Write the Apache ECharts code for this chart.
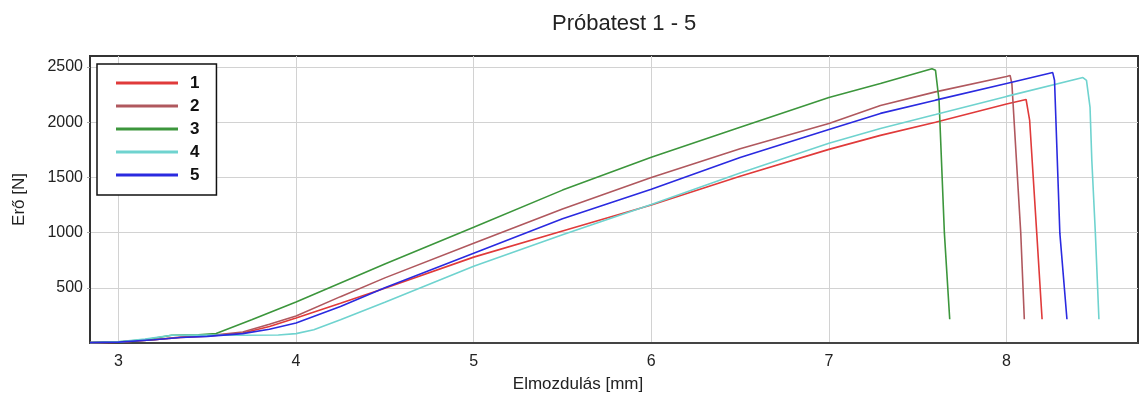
<!DOCTYPE html>
<html>
<head>
<meta charset="utf-8">
<script src="https://cdn.jsdelivr.net/npm/echarts@6/dist/echarts.min.js"></script>
<style>
  html, body { margin: 0; padding: 0; background: #fff; }
  #chart { width: 1140px; height: 410px; }
</style>
</head>
<body>
<div id="chart"></div>
<script>
// Próbatest 1 - 5, elmozdulás [mm] / erő [N]
const names = ['1', '2', '3', '4', '5']
const colors = ['#e03a3a', '#b0585e', '#3c963c', '#6fd3cf', '#2a2ae0']

const disp1 = [2.84, 3.0, 3.2, 3.35, 3.5, 3.7, 3.85, 4.0, 4.25, 4.5, 5.0, 5.5, 6.0, 6.5, 7.0, 7.29, 7.6, 8.0, 8.11, 8.13, 8.17, 8.20]
const force1 = [3, 8, 30, 50, 62, 90, 150, 226, 360, 497, 778, 1015, 1250, 1510, 1754, 1881, 2000, 2165, 2206, 2016, 995, 215]

const disp2 = [2.84, 3.0, 3.2, 3.35, 3.5, 3.7, 3.85, 4.0, 4.25, 4.5, 5.0, 5.5, 6.0, 6.5, 7.0, 7.29, 7.6, 8.0, 8.02, 8.03, 8.08, 8.10]
const force2 = [3, 8, 30, 55, 65, 100, 170, 244, 420, 590, 904, 1215, 1500, 1760, 1989, 2152, 2275, 2414, 2423, 2350, 995, 215]

const disp3 = [2.84, 3.0, 3.15, 3.3, 3.45, 3.55, 3.75, 4.0, 4.5, 5.0, 5.5, 6.0, 6.5, 7.0, 7.29, 7.58, 7.60, 7.62, 7.65, 7.68]
const force3 = [5, 10, 30, 70, 75, 85, 210, 371, 715, 1049, 1385, 1682, 1955, 2224, 2350, 2484, 2470, 2197, 995, 215]

const disp4 = [2.84, 3.0, 3.15, 3.3, 3.5, 3.7, 3.9, 4.0, 4.1, 4.25, 4.5, 5.0, 5.5, 6.0, 6.5, 7.0, 7.29, 7.6, 8.0, 8.43, 8.45, 8.47, 8.48, 8.50, 8.52]
const force4 = [3, 10, 35, 70, 72, 70, 72, 85, 120, 210, 370, 696, 980, 1255, 1540, 1809, 1944, 2070, 2234, 2405, 2380, 2134, 1655, 995, 215]

const disp5 = [2.84, 3.0, 3.2, 3.35, 3.5, 3.7, 3.85, 4.0, 4.25, 4.5, 5.0, 5.5, 6.0, 6.5, 7.0, 7.29, 7.6, 8.0, 8.26, 8.27, 8.30, 8.34]
const force5 = [3, 8, 30, 50, 60, 85, 125, 181, 330, 500, 814, 1125, 1393, 1680, 1935, 2080, 2200, 2351, 2450, 2380, 995, 215]

const xTicks = [3, 4, 5, 6, 7, 8]
const yTicks = [500, 1000, 1500, 2000, 2500]

const allDisp = [disp1, disp2, disp3, disp4, disp5]
const allForce = [force1, force2, force3, force4, force5]

const font = 'Liberation Sans, Arial, sans-serif'

const chart = echarts.init(document.getElementById('chart'))
chart.setOption({
    animation: false,
    title: {
        text: 'Próbatest 1 - 5',
        left: 547,
        top: 8,
        textStyle: { fontFamily: font, fontSize: 22, fontWeight: 'normal', color: '#222' },
    },
    legend: {
        orient: 'vertical',
        left: 97,
        top: 64,
        data: names,
        icon: 'rect',
        itemWidth: 62,
        itemHeight: 3,
        itemGap: 5,
        padding: [10, 17, 11, 19],
        borderColor: '#111',
        borderWidth: 1.5,
        backgroundColor: '#fff',
        textStyle: { fontFamily: font, fontSize: 17, fontWeight: 'bold', color: '#111', lineHeight: 18, padding: [0, 0, 0, 7] },
    },
    grid: {
        left: 90,
        right: 2,
        top: 56,
        bottom: 67,
        show: true,
        borderColor: '#333',
        borderWidth: 2,
    },
    xAxis: {
        type: 'value',
        min: 2.84,
        max: 8.74,
        name: 'Elmozdulás [mm]',
        nameLocation: 'middle',
        nameGap: 33,
        nameTextStyle: { fontFamily: font, fontSize: 17, color: '#222', padding: [0, 72, 0, 0] },
        axisLine: { show: true, lineStyle: { color: '#444', width: 2 } },
        axisTick: { show: false, customValues: xTicks },
        axisLabel: { customValues: xTicks, margin: 11, fontFamily: font, fontSize: 16, color: '#222' },
        splitLine: { show: true, lineStyle: { color: '#d2d2d2', width: 1 } },
    },
    yAxis: {
        type: 'value',
        min: 0,
        max: 2600,
        name: 'Erő [N]',
        nameLocation: 'middle',
        nameGap: 62,
        nameTextStyle: { fontFamily: font, fontSize: 17, color: '#222' },
        axisLine: { show: true, lineStyle: { color: '#333', width: 2 } },
        axisTick: { show: true, length: 3, customValues: yTicks, lineStyle: { color: '#aaa' } },
        axisLabel: {
            customValues: yTicks,
            margin: 7,
            fontFamily: font,
            fontSize: 16,
            color: '#222',
            formatter: (v) => String(v),
        },
        splitLine: { show: true, lineStyle: { color: '#d2d2d2', width: 1 } },
    },
    series: names.map((n, i) => ({
        name: n,
        type: 'line',
        showSymbol: false,
        color: colors[i],
        lineStyle: { width: 1.6, color: colors[i] },
        data: allDisp[i].map((d, j) => [d, allForce[i][j]]),
    })),
})
</script>
</body>
</html>
